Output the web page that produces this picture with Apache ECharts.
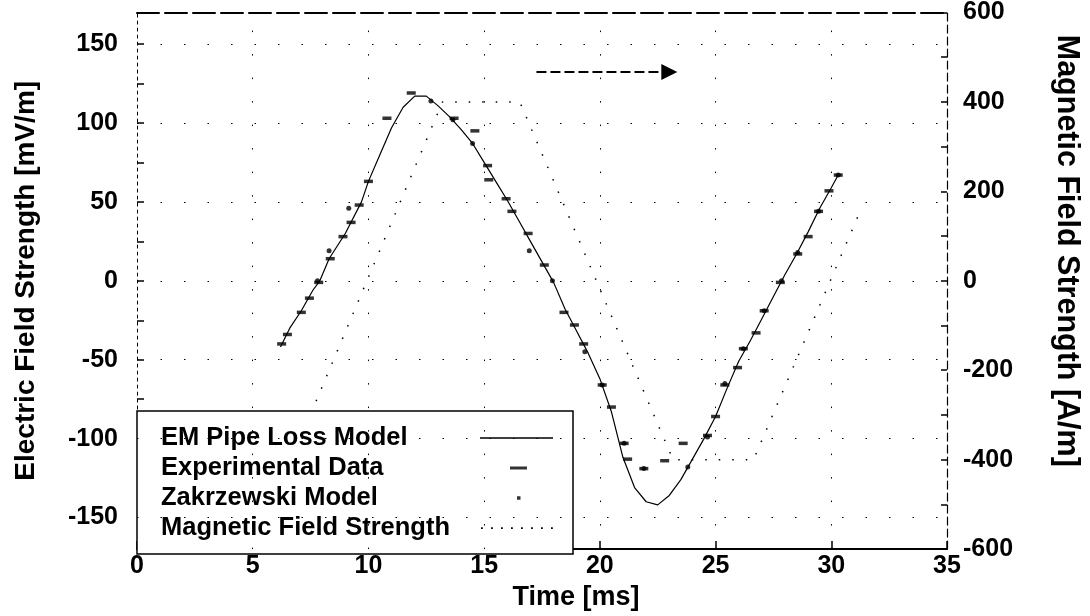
<!DOCTYPE html>
<html><head><meta charset="utf-8">
<script src="https://cdn.jsdelivr.net/npm/echarts@6/dist/echarts.min.js"></script>
<style>html,body{margin:0;padding:0;background:#fff}#c{width:1090px;height:616px}</style>
</head><body><div id="c"></div>
<script>
const FONT = '"Liberation Sans", Arial, Helvetica, sans-serif';

// EM Pipe Loss Model (left axis, mV/m)
const modelTime = [6.2,6.6,7.1,7.6,7.9,8.3,9.0,9.7,10.0,10.5,11.0,11.5,12.0,12.5,13.0,13.5,14.0,14.5,15.0,15.5,16.0,16.5,17.0,17.5,18.0,18.5,19.0,19.5,20.0,20.5,21.0,21.5,22.0,22.5,23.0,23.5,24.0,24.5,25.0,25.5,26.0,26.5,27.0,27.5,28.0,28.5,29.0,29.5,30.0,30.3];
const modelE = [-42,-30,-19,-6,0,14,30,50,63,80,97,110,117,117,111,104,96,87,75,63,51,38,25,12,-1,-18,-32,-46,-62,-83,-112,-131,-140,-142,-136,-126,-113,-100,-86,-68,-51,-38,-24,-10,4,17,31,46,59,67];

// Experimental Data
const expTime = [6.25,6.5,7.1,7.45,7.85,8.35,8.9,9.25,9.6,10.0,10.8,11.85,13.7,14.6,15.15,15.2,15.95,16.2,16.9,17.6,18.45,18.9,19.3,20.1,20.5,21.05,21.2,21.9,22.8,23.6,24.65,25.0,25.4,25.95,26.2,26.75,27.1,27.8,28.55,29.0,29.45,29.9,30.3];
const expE = [-40,-34,-20,-11,-1,14,28,37,48,63,103,119,103,95,73,64,52,44,30,10,-20,-28,-40,-66,-80,-103,-113,-119,-114,-103,-98,-86,-66,-55,-43,-33,-19,-1,17,28,44,57,67];

// Zakrzewski Model
const zakTime = [7.8,8.3,9.15,12.7,13.65,14.5,16.95,17.95,19.35,20.1,21.05,21.9,23.8,24.65,25.4,26.2,27.1,27.85,28.55,29.45,30.3];
const zakE = [0,19,46,114,102,87,19,0,-45,-66,-103,-119,-118,-99,-65,-43,-19,0,18,44,67];

// Magnetic Field Strength (right axis, A/m)
const magTime = [3.0,6.67,13.2,16.54,23.16,26.64,31.2];
const magH = [-400,-400,400,400,-400,-400,150];

// Axis ticks / labels
const xTicks = [0,5,10,15,20,25,30,35];
const eLabels = [-150,-100,-50,0,50,100,150];
const eTicks = [-150,-125,-100,-75,-50,-25,0,25,50,75,100,125,150];
const hLabels = [-600,-400,-200,0,200,400,600];
const hTicks = [-600,-500,-400,-300,-200,-100,0,100,200,300,400,500,600];
const gridX = [5,10,15,20,25,30];
const gridE = [-150,-100,-50,0,50,100,150];

// Arrow annotation (time ms, A/m)
const arrowFrom = [17.26, 467];
const arrowTo = [23.0, 467];

const zip = (a, b) => a.map((v, i) => [v, b[i]]);
const corners = 'M0,0L0.01,0M72.99,14L73,14';
let magDots = '';
for (let k = 0; k < 8; k++) { const x = 1 + k * 10; magDots += 'M' + x + ',6.3L' + (x + 1.8) + ',6.3L' + (x + 1.8) + ',8L' + x + ',8Z'; }

const chart = echarts.init(document.getElementById('c'), null, {renderer: 'canvas'});
chart.setOption({
  animation: false,
  backgroundColor: '#fff',
  color: ['#000', '#000', '#000', '#000'],
  grid: {left: 137, right: 138, top: 10, bottom: 66},
  xAxis: [{
    type: 'value', min: 0, max: 35, interval: 5, position: 'bottom',
    axisLine: {onZero: false, lineStyle: {color: '#000', width: 2}},
    axisTick: {inside: true, length: 8, customValues: xTicks, lineStyle: {color: '#000', width: 1.5}},
    axisLabel: {customValues: xTicks, color: '#000', fontSize: 25, fontWeight: 'bold', fontFamily: FONT, margin: 5},
    splitLine: {show: false},
    name: 'Time [ms]', nameLocation: 'middle', nameGap: 32,
    nameTextStyle: {color: '#000', fontSize: 27, fontWeight: 'bold', fontFamily: FONT, padding: [0, 0, 0, 68]}
  }, {
    type: 'value', min: 0, max: 35, position: 'top',
    axisLine: {show: true, onZero: false, lineStyle: {color: '#000', width: 2, type: [22, 6]}},
    axisTick: {show: false}, axisLabel: {show: false}, splitLine: {show: false}
  }],
  yAxis: [{
    type: 'value', min: -170, max: 170, position: 'left',
    axisLine: {show: true, onZero: false, lineStyle: {color: '#000', width: 1, type: [3, 4]}},
    axisTick: {show: true, inside: true, length: 7, customValues: eTicks, lineStyle: {color: '#000', width: 1.5}},
    axisLabel: {customValues: eLabels, color: '#000', fontSize: 25, fontWeight: 'bold', fontFamily: FONT, margin: 19},
    splitLine: {show: false},
    name: 'Electric Field Strength [mV/m]', nameLocation: 'middle', nameRotate: 90, nameGap: 97,
    nameTextStyle: {color: '#000', fontSize: 28, fontWeight: 'bold', fontFamily: FONT}
  }, {
    type: 'value', min: -600, max: 600, position: 'right',
    axisLine: {show: true, onZero: false, lineStyle: {color: '#000', width: 1.2, type: [8, 4]}},
    axisTick: {show: true, inside: true, length: 6, customValues: hTicks, lineStyle: {color: '#000', width: 1.5}},
    axisLabel: {customValues: hLabels, color: '#000', fontSize: 25, fontWeight: 'bold', fontFamily: FONT, margin: 16},
    splitLine: {show: false},
    name: 'Magnetic Field Strength [A/m]', nameLocation: 'middle', nameRotate: -90, nameGap: 104,
    nameTextStyle: {color: '#000', fontSize: 30.5, fontWeight: 'bold', fontFamily: FONT, padding: [0, 60, 0, 0]}
  }],
  legend: {
    orient: 'vertical', left: 137, top: 411, align: 'right',
    padding: [14, 20, 13, 24], itemGap: 4, itemWidth: 73, itemHeight: 14,
    backgroundColor: '#fff', borderColor: '#000', borderWidth: 1.5, borderRadius: 0,
    itemStyle: {borderWidth: 0},
    selectedMode: false,
    formatter: n => '{a|' + n + '}',
    textStyle: {color: '#000', fontFamily: FONT, fontSize: 25, fontWeight: 'bold',
      rich: {a: {width: 314, align: 'left', fontSize: 25.5, fontWeight: 'bold', lineHeight: 25, fontFamily: FONT, color: '#000'}}},
    data: [
      {name: 'EM Pipe Loss Model', icon: 'path://' + corners + 'M0,6.2L73,6.2L73,7.8L0,7.8Z'},
      {name: 'Experimental Data', icon: 'path://' + corners + 'M30,5.5L47,5.5L47,8.5L30,8.5Z'},
      {name: 'Zakrzewski Model', icon: 'path://' + corners + 'M37,5.2L40.5,5.2L40.5,8.7L37,8.7Z'},
      {name: 'Magnetic Field Strength', icon: 'path://' + corners + magDots}
    ]
  },
  series: [{
    name: 'EM Pipe Loss Model', type: 'line', xAxisIndex: 0, yAxisIndex: 0,
    data: zip(modelTime, modelE), symbol: 'none', smooth: false,
    lineStyle: {color: '#000', width: 1.2}, z: 3,
    markLine: {
      silent: true, symbol: ['none', 'none'], label: {show: false},
      lineStyle: {color: '#000', width: 1, type: [1.5, 22]},
      data: gridX.map(v => ({xAxis: v})).concat(gridE.map(v => ({yAxis: v})))
    }
  }, {
    name: 'Experimental Data', type: 'scatter', xAxisIndex: 0, yAxisIndex: 0,
    data: zip(expTime, expE), symbol: 'rect', symbolSize: [9, 3.5],
    itemStyle: {color: '#000'}, z: 4
  }, {
    name: 'Zakrzewski Model', type: 'scatter', xAxisIndex: 0, yAxisIndex: 0,
    data: zip(zakTime, zakE), symbol: 'circle', symbolSize: 5,
    itemStyle: {color: '#000'}, z: 4
  }, {
    name: 'Magnetic Field Strength', type: 'line', xAxisIndex: 0, yAxisIndex: 1,
    data: zip(magTime, magH), symbol: 'none',
    lineStyle: {color: '#000', width: 1.5, type: [1.5, 12]}, z: 3,
    markLine: {
      silent: true, symbol: ['none', 'triangle'], symbolSize: [16, 16], label: {show: false},
      lineStyle: {color: '#000', width: 2, type: [10, 4]},
      data: [[{coord: arrowFrom}, {coord: arrowTo}]]
    }
  }]
});
</script></body></html>
